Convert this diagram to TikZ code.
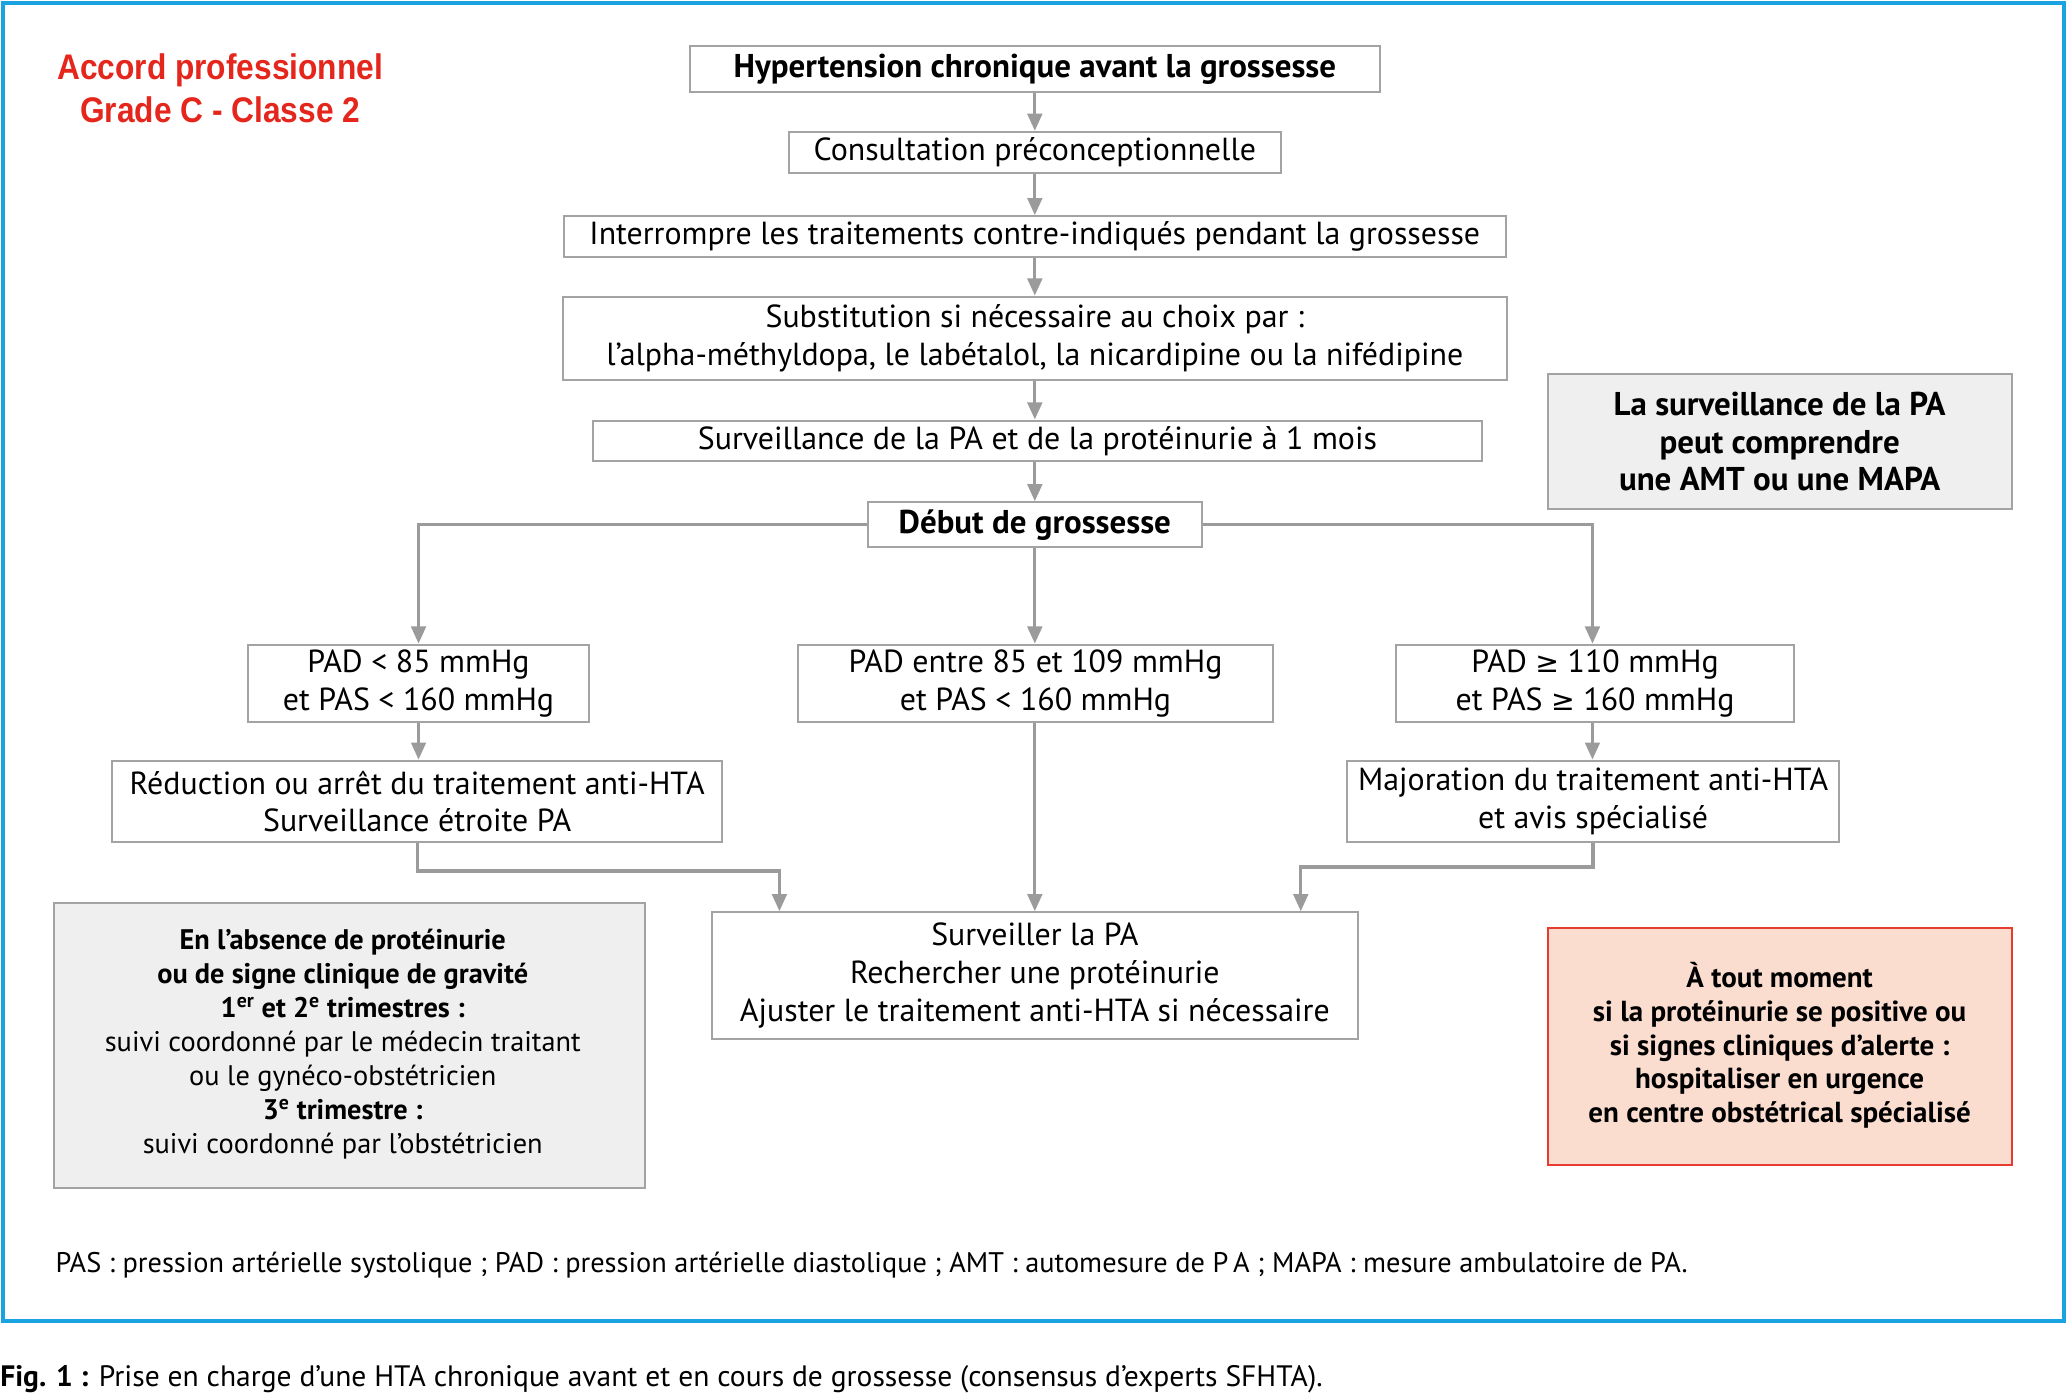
\documentclass[tikz,border=0pt]{standalone}
\usepackage{fontspec}
\setmainfont[FakeStretch=1.0]{PT Sans}
\newfontfamily\redfont[FakeStretch=0.89]{Liberation Sans}
\newfontfamily\symfont{DejaVu Sans}
\usetikzlibrary{arrows.meta}
\definecolor{bordergray}{HTML}{A3A3A3}
\definecolor{arrowgray}{HTML}{9B9B9B}
\definecolor{boxfill}{HTML}{EFEFEF}
\definecolor{pinkfill}{HTML}{FBDDD0}
\definecolor{pinkborder}{HTML}{E63B2E}
\definecolor{redtitle}{HTML}{E4261C}
\definecolor{frameblue}{HTML}{1AA3E0}
\newcommand\mainsz{\fontsize{24.2}{28.6}\selectfont}
\newcommand\boldsz{\fontsize{25}{28.6}\selectfont\bfseries}
\newcommand\smallsz{\fontsize{21.5}{25.7}\selectfont}
\newcommand\pinksz{\fontsize{22}{25.5}\selectfont}
\newcommand\gesym{{\symfont\fontsize{21.5}{22}\selectfont ≥}}
\begin{document}
\begin{tikzpicture}[x=1pt,y=-1pt,
  box/.style={draw=bordergray, line width=1.5pt, inner sep=0pt, align=center, font=\mainsz},
  graybox/.style={box, fill=boxfill},
  arr/.style={draw=arrowgray, line width=2.5pt, -{Triangle[length=13pt,width=11pt]}},
  ]
\useasboundingbox (0,0) rectangle (1568,1056);
\fill[white] (0,0) rectangle (1568,1056);
\draw[frameblue, line width=3pt] (2,2) rectangle (1566,1002);

\node[font=\redfont\bfseries\fontsize{27}{32}\selectfont, text=redtitle, align=center] (title) at (167,67) {Accord professionnel\\Grade C - Classe 2};

\node[box, minimum width=523pt, minimum height=35pt, font=\boldsz] (n1) at (785,52.5) {Hypertension chronique avant la grossesse};
\node[box, minimum width=373pt, minimum height=31pt] (n2) at (785,115.5) {Consultation préconceptionnelle};
\node[box, minimum width=715pt, minimum height=31pt] (n3) at (785,179.5) {Interrompre les traitements contre-indiqués pendant la grossesse};
\node[box, minimum width=716pt, minimum height=63pt] (n4) at (785,256.5) {Substitution si nécessaire au choix par :\\l’alpha-méthyldopa, le labétalol, la nicardipine ou la nifédipine};
\node[box, minimum width=674pt, minimum height=31pt] (n5) at (787,334.5) {Surveillance de la PA et de la protéinurie à 1 mois};
\node[box, minimum width=253pt, minimum height=34pt, font=\boldsz] (n6) at (785,398) {Début de grossesse};

\node[graybox, minimum width=352pt, minimum height=102pt, font=\boldsz] (ngr) at (1350,335) {La surveillance de la PA\\peut comprendre\\une AMT ou une MAPA};

\node[box, minimum width=259pt, minimum height=59pt] (n8) at (317.5,518.5) {PAD < 85 mmHg\\et PAS < 160 mmHg};
\node[box, minimum width=361pt, minimum height=59pt] (n9) at (785.5,518.5) {PAD entre 85 et 109 mmHg\\et PAS < 160 mmHg};
\node[box, minimum width=302pt, minimum height=59pt] (n10) at (1210,518.5) {PAD \gesym{} 110 mmHg\\et PAS \gesym{} 160 mmHg};

\node[box, minimum width=463pt, minimum height=62pt] (n11) at (316.5,608) {Réduction ou arrêt du traitement anti-HTA\\Surveillance étroite PA};
\node[box, minimum width=373pt, minimum height=62pt] (n12) at (1208.5,608) {Majoration du traitement anti-HTA\\et avis spécialisé};

\node[box, minimum width=490pt, minimum height=96pt] (n13) at (785,740) {Surveiller la PA\\Rechercher une protéinurie\\Ajuster le traitement anti-HTA si nécessaire};

\node[graybox, minimum width=448pt, minimum height=216pt] (nleft) at (265,793) {};
\node[align=center, font=\smallsz, inner sep=0pt] (nlefttext) at (260,792) {\textbf{En l’absence de protéinurie}\\\textbf{ou de signe clinique de gravité}\\\textbf{1\textsuperscript{er} et 2\textsuperscript{e} trimestres :}\\suivi coordonné par le médecin traitant\\ou le gynéco-obstétricien\\\textbf{3\textsuperscript{e} trimestre :}\\suivi coordonné par l’obstétricien};

\node[draw=pinkborder, fill=pinkfill, line width=1.5pt, minimum width=352pt, minimum height=180pt] (npink) at (1350,794) {};
\node[align=center, font=\pinksz\bfseries, inner sep=0pt] (npinktext) at (1350,793) {À tout moment\\si la protéinurie se positive ou\\si signes cliniques d’alerte :\\hospitaliser en urgence\\en centre obstétrical spécialisé};

\node[anchor=west, inner sep=0pt, font=\fontsize{21.5}{24}\selectfont] (foot) at (42,960) {PAS : pression artérielle systolique ; PAD : pression artérielle diastolique ; AMT : automesure de P\,A ; MAPA : mesure ambulatoire de PA.};
\node[anchor=west, inner sep=0pt, font=\fontsize{22.4}{24}\selectfont] (caption) at (0,1046) {\textbf{Fig. 1 :} Prise en charge d’une HTA chronique avant et en cours de grossesse (consensus d’experts SFHTA).};

\draw[arr] (n1.south) -- (n1.south |- n2.north);
\draw[arr] (n2.south) -- (n2.south |- n3.north);
\draw[arr] (n3.south) -- (n3.south |- n4.north);
\draw[arr] (n4.south) -- (n4.south |- n5.north);
\draw[arr] (n4.south |- n5.south) -- (n4.south |- n6.north);
\draw[arr] (n6.west) -| (n8.north);
\draw[arr] (n6.east) -| ([xshift=-2pt]n10.north);
\draw[arr] (n6.south) -- (n6.south |- n9.north);
\draw[arr] (n8.south) -- (n8.south |- n11.north);
\draw[arr] ([xshift=-2pt]n10.south) -- ([xshift=-2pt]n10.south |- n12.north);
\draw[arr] (n6.south |- n9.south) -- (n6.south |- n13.north);
\draw[arr] (n11.south) -- ++(0,21) -| ([xshift=52pt]n13.north west);
\draw[arr] (n12.south) -- ++(0,18) -| ([xshift=-44pt]n13.north east);
\end{tikzpicture}
\end{document}
